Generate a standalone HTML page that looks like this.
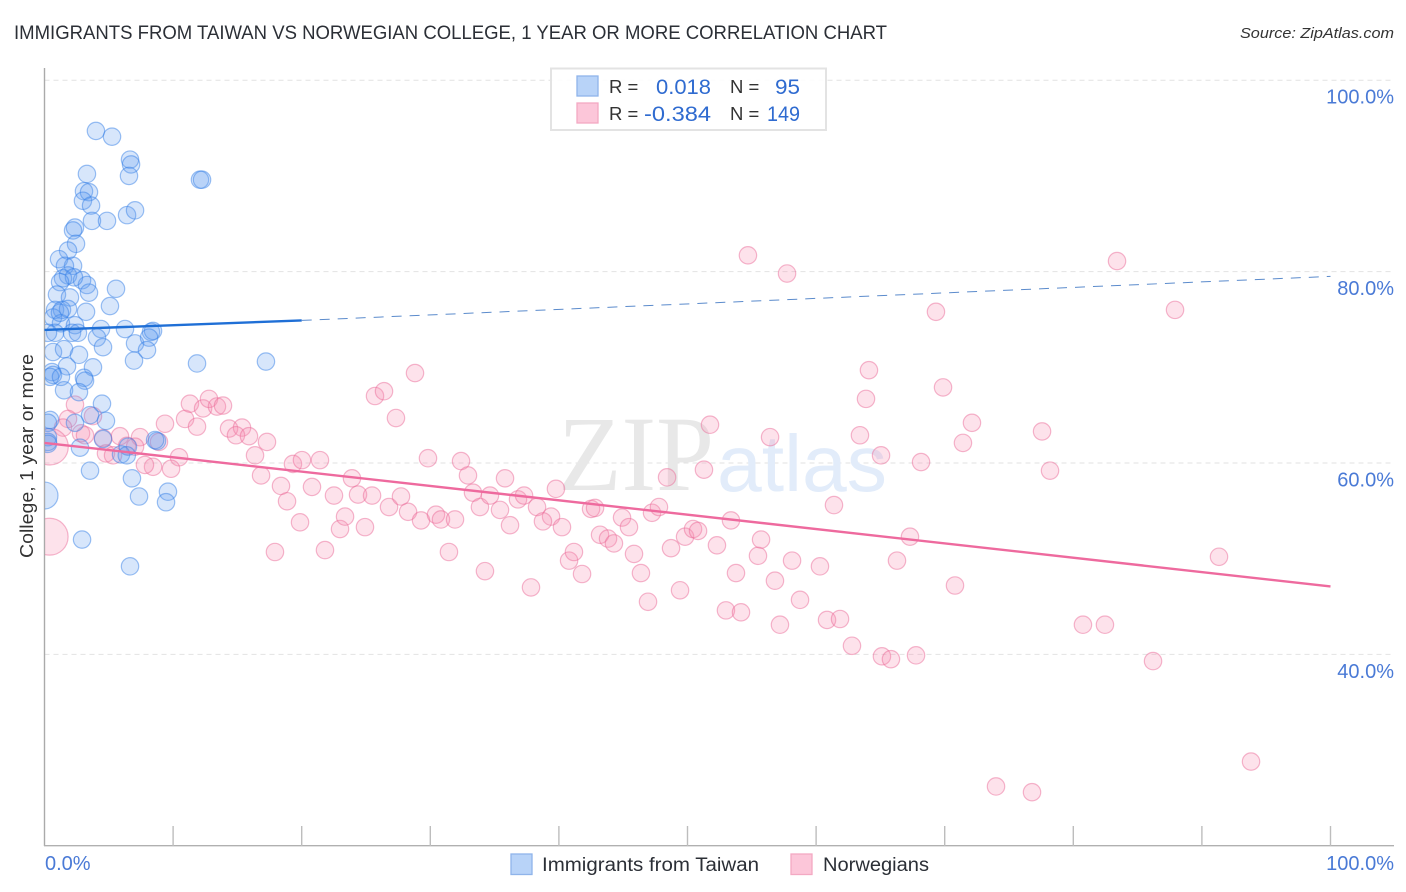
<!DOCTYPE html>
<html lang="en">
<head>
<meta charset="utf-8">
<title>Immigrants from Taiwan vs Norwegian College, 1 year or more Correlation Chart</title>
<style>
html,body{margin:0;padding:0;background:#fff;}
body{width:1406px;height:892px;overflow:hidden;}
svg{display:block;font-family:"Liberation Sans",sans-serif;}
</style>
</head>
<body>
<svg id="chart" width="1406" height="892" viewBox="0 0 1406 892" xmlns="http://www.w3.org/2000/svg">
  <defs><clipPath id="plot-clip"><rect x="45" y="60" width="1349" height="786"/></clipPath></defs>
  <text x="14" y="39" font-size="19" fill="#2b2f36" textLength="873" lengthAdjust="spacingAndGlyphs">IMMIGRANTS FROM TAIWAN VS NORWEGIAN COLLEGE, 1 YEAR OR MORE CORRELATION CHART</text>
  <text x="1394" y="38" font-size="15" font-style="italic" fill="#333" text-anchor="end" textLength="154" lengthAdjust="spacingAndGlyphs">Source: ZipAtlas.com</text>
  <g id="grid"></g>
  <text x="558" y="490" font-family="'Liberation Serif',serif" font-size="107" fill="#e8e8e8" textLength="156" lengthAdjust="spacingAndGlyphs">ZIP</text>
  <text x="717" y="491" font-size="80" fill="#e2ecfa" textLength="170" lengthAdjust="spacingAndGlyphs">atlas</text>
  <g id="axes"></g>
  <g id="points" clip-path="url(#plot-clip)"></g>
  <g id="trends"></g>
  <text transform="translate(33,456) rotate(-90)" font-size="18.5" fill="#333" text-anchor="middle" textLength="204" lengthAdjust="spacingAndGlyphs">College, 1 year or more</text>
  <g id="stats-legend">
    <rect x="551" y="68.5" width="275" height="61.5" fill="#fff" fill-opacity="0.9" stroke="#e3e3e3" stroke-width="2"/>
    <rect x="577" y="76" width="21" height="20" fill="#b8d3f8" stroke="#8fb4ea" stroke-width="1.3"/>
    <rect x="577" y="103" width="21" height="20" fill="#fcc6d9" stroke="#f3a9c3" stroke-width="1.3"/>
    <text x="609" y="93" font-size="18.5" fill="#333">R =</text>
    <text x="656" y="94" font-size="21" fill="#2f6bd0" textLength="55" lengthAdjust="spacingAndGlyphs">0.018</text>
    <text x="730" y="93" font-size="18.5" fill="#333">N =</text>
    <text x="775" y="94" font-size="21" fill="#2f6bd0" textLength="25" lengthAdjust="spacingAndGlyphs">95</text>
    <text x="609" y="120" font-size="18.5" fill="#333">R =</text>
    <text x="644" y="121" font-size="21" fill="#2f6bd0" textLength="67" lengthAdjust="spacingAndGlyphs">-0.384</text>
    <text x="730" y="120" font-size="18.5" fill="#333">N =</text>
    <text x="767" y="121" font-size="21" fill="#2f6bd0" textLength="33" lengthAdjust="spacingAndGlyphs">149</text>
  </g>
  <g id="bottom-legend">
    <rect x="511" y="854" width="21" height="20.5" fill="#b8d3f8" stroke="#8fb4ea" stroke-width="1.3"/>
    <text x="542" y="871" font-size="19" fill="#2b2f36" textLength="217" lengthAdjust="spacingAndGlyphs">Immigrants from Taiwan</text>
    <rect x="791" y="854" width="21" height="20.5" fill="#fcc6d9" stroke="#f3a9c3" stroke-width="1.3"/>
    <text x="823" y="871" font-size="19" fill="#2b2f36" textLength="106" lengthAdjust="spacingAndGlyphs">Norwegians</text>
  </g>
</svg>
<script>
const yTickValues = [100, 80, 60, 40];
const yTickLabels = ['100.0%', '80.0%', '60.0%', '40.0%'];
const xTickValues = [10, 20, 30, 40, 50, 60, 70, 80, 90, 100];
const xEndValues = [0, 100];
const xEndLabels = ['0.0%', '100.0%'];

const taiwanX = [4.0,5.25,6.65,6.73,6.57,12.09,12.25,3.30,3.07,3.46,2.99,3.62,3.69,4.86,6.42,7.04,2.37,2.22,2.45,1.83,1.13,2.22,1.59,1.83,1.44,2.92,3.30,2.29,1.21,3.46,5.56,0.97,1.98,5.09,3.23,0.82,1.36,1.83,0.66,1.28,2.37,0.82,2.14,2.60,4.39,6.26,4.08,4.55,7.04,8.28,8.44,8.13,7.97,0.66,1.52,2.68,6.96,11.86,17.22,1.75,3.77,0.58,0.66,0.43,1.28,3.07,3.15,1.52,2.68,4.47,3.54,2.37,4.78,0.43,0.27,0.27,0.27,0.27,4.55,2.76,6.49,5.95,8.75,3.54,6.80,7.35,9.60,9.45,2.92,6.65,0.27,1.2,6.4,8.6];
const taiwanY = [94.7,94.1,91.7,91.2,90.0,89.6,89.6,90.2,88.4,88.3,87.4,86.9,85.3,85.3,85.9,86.4,84.6,84.3,82.9,82.2,81.3,80.6,80.6,79.6,79.3,79.1,78.6,79.4,78.9,77.8,78.2,77.6,77.3,76.4,75.8,76.0,76.0,76.1,75.2,74.6,74.4,73.6,73.6,73.6,74.0,74.0,73.1,72.1,72.5,73.7,73.8,73.1,71.8,71.6,71.9,71.3,70.7,70.4,70.6,70.1,70.0,69.5,69.2,69.0,69.0,68.9,68.6,67.6,67.4,66.2,65.0,64.2,64.4,64.5,64.2,62.7,62.2,62.0,62.5,61.6,61.7,60.9,62.3,59.2,58.4,56.5,57.0,55.9,52.0,49.2,73.6,75.7,60.8,62.4];
const taiwanLargeX = [0];
const taiwanLargeY = [56.6];
const taiwanLargeWeight = [2.4];

const norwegianX = [2.37,1.83,1.44,2.84,3.77,3.15,5.87,7.43,4.55,6.42,7.04,8.90,9.37,10.93,11.31,11.86,12.33,12.79,13.41,13.88,14.35,15.36,14.89,15.90,17.30,16.37,16.84,19.32,18.39,18.86,19.87,17.92,10.46,9.84,8.44,7.81,4.78,5.33,20.02,21.42,20.80,21.81,22.51,22.98,23.37,23.91,24.38,24.92,25.47,25.70,26.40,28.81,27.33,26.79,27.72,28.27,29.28,29.82,30.44,30.83,31.45,31.92,32.39,32.93,33.32,33.86,34.25,34.64,35.42,35.81,36.2,36.82,37.29,37.83,38.3,39.39,38.76,39.77,40.24,40.79,41.17,41.8,42.5,42.81,43.2,43.82,44.28,44.91,45.45,45.84,46.38,46.93,47.24,47.78,48.41,48.72,49.42,49.81,50.43,50.82,51.28,51.75,52.29,52.99,53.38,53.77,54.16,55.48,55.72,56.42,56.8,57.19,58.13,58.75,60.3,60.85,61.39,61.86,62.79,63.41,63.88,64.11,65.05,65.12,65.82,66.29,67.3,67.77,68.16,69.32,69.87,70.8,71.42,72.12,73.99,76.79,77.57,78.19,80.75,82.46,86.2,87.91,83.4,91.33,93.82,54.7,57.74];
const norwegianY = [66.1,64.6,63.7,63.1,64.9,62.9,62.8,62.7,62.6,61.8,61.7,62.2,64.1,64.6,66.2,63.8,65.7,66.7,65.9,66.0,63.6,63.7,62.9,62.8,62.2,60.8,58.7,59.9,57.6,56.0,53.8,50.7,60.6,59.4,59.6,59.8,61.0,60.8,60.3,60.3,57.5,50.9,56.6,53.1,54.4,58.4,56.7,53.3,56.6,67.0,67.5,69.4,64.7,55.4,56.5,54.9,54.0,60.5,54.6,54.1,50.7,54.1,60.2,58.7,56.9,55.4,48.7,56.6,55.1,58.4,53.5,56.2,56.6,47.0,55.4,54.4,53.9,57.3,53.3,49.8,50.7,48.4,55.2,55.3,52.5,52.1,51.6,54.3,53.3,50.5,48.5,45.5,54.8,55.4,58.5,51.1,46.7,52.3,53.1,52.9,59.3,64.0,51.4,44.6,54.0,48.5,44.4,50.3,52.0,62.7,47.7,43.1,49.8,45.7,49.2,43.6,55.6,43.7,40.9,62.9,66.7,69.7,60.8,39.8,39.5,49.8,52.3,39.9,60.1,75.8,67.9,47.2,62.1,64.2,26.2,25.6,63.3,59.2,43.1,43.1,39.3,76.0,81.1,50.2,28.8,81.7,79.8];
const norwegianLargeX = [0.43, 0.4];
const norwegianLargeY = [61.7, 52.3];
const norwegianLargeWeight = [4.4, 4.5];

const taiwanTrendSolidX = [0, 20];
const taiwanTrendSolidY = [73.9, 74.9];
const taiwanTrendDashX = [20, 100];
const taiwanTrendDashY = [74.9, 79.5];
const norwegianTrendX = [0, 100];
const norwegianTrendY = [62.1, 47.1];

const NS = 'http://www.w3.org/2000/svg';
const xScale = v => 44.5 + v * 12.86;
const yScale = v => 80.2 + (100 - v) * 9.57;
const rScale = w => 8.7 * Math.sqrt(w);

const gridG = document.getElementById('grid');
const axesG = document.getElementById('axes');
const pointsG = document.getElementById('points');
const trendsG = document.getElementById('trends');

function make(tag, attrs, parent) {
  const el = document.createElementNS(NS, tag);
  for (const k in attrs) el.setAttribute(k, attrs[k]);
  parent.appendChild(el);
  return el;
}

yTickValues.forEach((v, i) => {
  const grid = make('line', {x1: 44.5, x2: 1394, y1: yScale(v), y2: yScale(v), stroke: '#e2e2e2', 'stroke-width': 1, 'stroke-dasharray': '5 4'}, gridG);
  
  
  const label = make('text', {x: 1394, y: yScale(v) + 23.5, 'font-size': 20, fill: '#4a7ad6', 'text-anchor': 'end'}, axesG);
  
  
  label.textContent = yTickLabels[i];
});

const leftAxis = make('line', {x1: 44.5, x2: 44.5, y1: 68, y2: 846, stroke: '#aaa', 'stroke-width': 1.4}, axesG);


const bottomAxis = make('line', {x1: 44, x2: 1394, y1: 845.7, y2: 845.7, stroke: '#b0b0b0', 'stroke-width': 1.4}, axesG);



xTickValues.forEach(v => {
  const tick = make('line', {x1: xScale(v), x2: xScale(v), y1: 826, y2: 846, stroke: '#bdbdbd', 'stroke-width': 1.4}, axesG);
  
  
});

xEndValues.forEach((v, i) => {
  const label = make('text', {x: v === 0 ? 45 : 1394, y: 870, 'font-size': 20, fill: '#4a7ad6', 'text-anchor': v === 0 ? 'start' : 'end'}, axesG);
  
  
  label.textContent = xEndLabels[i];
});

const taiwanStyle = {fill: 'rgba(96,156,240,0.25)', stroke: 'rgba(50,125,230,0.48)', 'stroke-width': 1.2};
const norwegianStyle = {fill: 'rgba(246,140,175,0.25)', stroke: 'rgba(235,105,150,0.48)', 'stroke-width': 1.2};

function drawCircle(xv, yv, w, style) {
  const c = make('circle', Object.assign({cx: xScale(xv), cy: yScale(yv), r: rScale(w)}, style), pointsG);
  return c;
}

norwegianX.forEach((xv, i) => {
  const c = drawCircle(xv, norwegianY[i], 1, norwegianStyle);
  
  
});
norwegianLargeX.forEach((xv, i) => {
  const c = drawCircle(xv, norwegianLargeY[i], norwegianLargeWeight[i], norwegianStyle);
  
  
});
taiwanX.forEach((xv, i) => {
  const c = drawCircle(xv, taiwanY[i], 1, taiwanStyle);
  
  
});
taiwanLargeX.forEach((xv, i) => {
  const c = drawCircle(xv, taiwanLargeY[i], taiwanLargeWeight[i], taiwanStyle);
  
  
});

const solid = make('line', {x1: xScale(taiwanTrendSolidX[0]), y1: yScale(taiwanTrendSolidY[0]), x2: xScale(taiwanTrendSolidX[1]), y2: yScale(taiwanTrendSolidY[1]), stroke: '#1f6fd6', 'stroke-width': 2.4}, trendsG);


const dashed = make('line', {x1: xScale(taiwanTrendDashX[0]), y1: yScale(taiwanTrendDashY[0]), x2: xScale(taiwanTrendDashX[1]), y2: yScale(taiwanTrendDashY[1]), stroke: '#5b8bcc', 'stroke-width': 1, 'stroke-dasharray': '10 8'}, trendsG);


const pinkTrend = make('line', {x1: xScale(norwegianTrendX[0]), y1: yScale(norwegianTrendY[0]), x2: xScale(norwegianTrendX[1]), y2: yScale(norwegianTrendY[1]), stroke: '#ee6a9e', 'stroke-width': 2.4}, trendsG);


</script>
</body>
</html>
